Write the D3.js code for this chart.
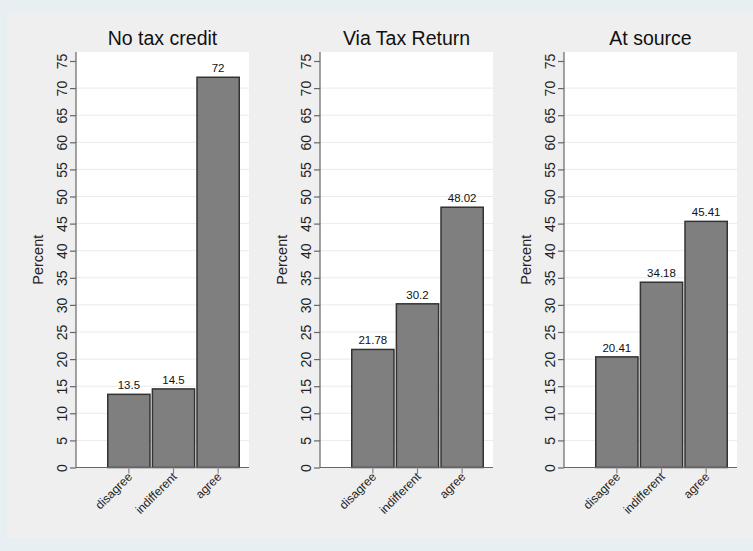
<!DOCTYPE html>
<html><head><meta charset="utf-8">
<script src="https://cdn.jsdelivr.net/npm/d3@7/dist/d3.min.js"></script>
<style>body{margin:0;padding:0;overflow:hidden;background:#E8EFF2}</style>
</head><body>
<script>
const categories = ["disagree", "indifferent", "agree"];
const panelTitles = ["No tax credit", "Via Tax Return", "At source"];
const noTaxCredit = [13.5, 14.5, 72];
const viaTaxReturn = [21.78, 30.2, 48.02];
const atSource = [20.41, 34.18, 45.41];
const valueLabels = [["13.5", "14.5", "72"], ["21.78", "30.2", "48.02"], ["20.41", "34.18", "45.41"]];
const yTicks = [0, 5, 10, 15, 20, 25, 30, 35, 40, 45, 50, 55, 60, 65, 70, 75];
const yLabel = "Percent";
const seriesList = [noTaxCredit, viaTaxReturn, atSource];

(function () {
const W = 753, H = 551;
const svg = d3.select("body").append("svg").attr("width", W).attr("height", H);
svg.append("rect").attr("x", 0).attr("y", 0).attr("width", W).attr("height", H).attr("fill", "#E8EFF2");
svg.append("rect").attr("x", 7).attr("y", 13).attr("width", W - 7).attr("height", 525).attr("fill", "#EFEFEF");

const font = "'Liberation Sans', Arial, sans-serif";
const plotTop = 52, plotBottom = 467.5, plotW = 173;
const y = d3.scaleLinear().domain([0, 75]).range([plotBottom, 61]);

seriesList.forEach((vals, i) => {
  const ax = 76 + i * 244;
  const g = svg.append("g");
  g.append("rect").attr("x", ax).attr("y", plotTop).attr("width", plotW).attr("height", plotBottom - plotTop).attr("fill", "#fff");
  const x = d3.scaleBand().domain(categories).range([ax + 31, ax + 164]).paddingInner(0.02).paddingOuter(0);
  g.selectAll(".grid").data(yTicks.filter(t => t > 0 && t < 75)).enter().append("line")
    .attr("x1", ax).attr("x2", ax + plotW).attr("y1", d => y(d)).attr("y2", d => y(d))
    .attr("stroke", "#EAEAEA").attr("stroke-width", 1);
  g.selectAll(".bar").data(vals).enter().append("rect")
    .attr("x", (d, j) => x(categories[j]) + 0.75).attr("width", x.bandwidth() - 1.5)
    .attr("y", d => y(d)).attr("height", d => plotBottom - y(d))
    .attr("fill", "#7F7F7F").attr("stroke", "#333").attr("stroke-width", 1.5);
  g.selectAll(".vl").data(vals).enter().append("text")
    .attr("x", (d, j) => x(categories[j]) + x.bandwidth() / 2).attr("y", d => y(d) - 5)
    .attr("text-anchor", "middle").attr("font-family", font).attr("font-size", 11.5).attr("fill", "#111")
    .text((d, j) => valueLabels[i][j]);
  const yAxis = d3.axisLeft(y).tickValues(yTicks).tickSize(6).tickPadding(8).tickFormat(d3.format("d"));
  const ya = g.append("g").attr("transform", `translate(${ax},0)`).call(yAxis);
  ya.select(".domain").attr("d", `M0,${plotTop}V${plotBottom}`).attr("stroke", "#666").attr("stroke-width", 1.2);
  ya.selectAll(".tick line").attr("stroke", "#666").attr("stroke-width", 1.2);
  ya.selectAll(".tick text").attr("font-family", font).attr("font-size", 14).attr("fill", "#222")
    .attr("transform", "rotate(-90)").attr("x", 0).attr("y", -14).attr("dy", "0.35em").attr("text-anchor", "middle");
  const xAxis = d3.axisBottom(x).tickSize(6).tickPadding(2);
  const xa = g.append("g").attr("transform", `translate(0,${plotBottom})`).call(xAxis);
  xa.select(".domain").attr("d", `M${ax},0H${ax + plotW}`).attr("stroke", "#666").attr("stroke-width", 1.2);
  xa.selectAll(".tick line").attr("stroke", "#888").attr("stroke-width", 1.2);
  xa.selectAll(".tick text").attr("font-family", font).attr("font-size", 12).attr("fill", "#222")
    .attr("text-anchor", "end").attr("y", 0).attr("dy", 0)
    .attr("transform", "translate(4,10) rotate(-45)");
  g.append("text").attr("transform", `translate(${ax - 33},${(plotTop + plotBottom) / 2}) rotate(-90)`)
    .attr("text-anchor", "middle").attr("font-family", font).attr("font-size", 14.5).attr("fill", "#222").text(yLabel);
  g.append("text").attr("x", ax + plotW / 2).attr("y", 45).attr("text-anchor", "middle")
    .attr("font-family", font).attr("font-size", 19.5).attr("fill", "#111").text(panelTitles[i]);
});
})();
</script>
</body></html>
